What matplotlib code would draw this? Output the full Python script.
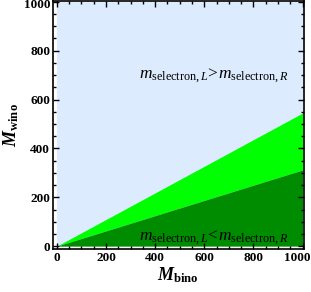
import numpy as np
import matplotlib.pyplot as plt
import matplotlib.ticker as ticker
import matplotlib.transforms as mtransforms

plt.rcParams['mathtext.fontset'] = 'custom'
plt.rcParams['mathtext.rm'] = 'Liberation Serif'
plt.rcParams['mathtext.it'] = 'Liberation Serif:italic'
plt.rcParams['mathtext.bf'] = 'Liberation Serif:bold'
plt.rcParams['mathtext.bfit'] = 'Liberation Serif:bold:italic'
plt.rcParams['font.family'] = 'Liberation Serif'

# boundary lines M_wino = slope * M_bino
m_bino = [0, 1000]
upper_edge = [0, 545]   # light green top
lower_edge = [0, 312]   # dark green top
region_text = [r'$m_{\mathrm{selectron,}L}\!>\!m_{\mathrm{selectron,}R}$',
               r'$m_{\mathrm{selectron,}L}\!<\!m_{\mathrm{selectron,}R}$']

fig = plt.figure(figsize=(3.11, 2.92), dpi=100)
ax = fig.add_axes([0.170, 0.147, 0.807, 0.850])

ax.fill_between([0, 1000], [0, 0], [1000, 1000], color='#dcebfd', lw=0)
ax.fill_between(m_bino, lower_edge, upper_edge, color='#00ff00', lw=0)
ax.fill_between(m_bino, [0, 0], lower_edge, color='#008c00', lw=0)

ax.text(640, 700, region_text[0], fontsize=12.5, ha='center', va='center')
ax.text(640, 35, region_text[1], fontsize=12.5, ha='center', va='center')

ax.set_xlim(-16, 1005)
ax.set_ylim(-12, 1004)
ax.set_xticks([0, 200, 400, 600, 800, 1000])
ax.set_yticks([0, 200, 400, 600, 800, 1000])
ax.xaxis.set_minor_locator(ticker.MultipleLocator(50))
ax.yaxis.set_minor_locator(ticker.MultipleLocator(50))
ax.tick_params(which='both', direction='in', top=True, right=True, width=1)
ax.tick_params(which='major', length=4.5, labelsize=9.5, pad=2)
ax.tick_params(which='minor', length=2.5)
for s in ax.spines.values():
    s.set_linewidth(1.2)

fig.canvas.draw()
for lab in ax.get_xticklabels() + ax.get_yticklabels():
    lab.set_fontweight('bold')
for lab in ax.get_xticklabels():
    if lab.get_text() == '1000':
        lab.set_transform(lab.get_transform() +
                          mtransforms.ScaledTranslation(-5 / 100, 0, fig.dpi_scale_trans))
for lab in ax.get_yticklabels():
    if lab.get_text() == '1000':
        lab.set_transform(lab.get_transform() +
                          mtransforms.ScaledTranslation(0, -2 / 100, fig.dpi_scale_trans))

ax.set_xlabel(r'$\mathbfit{M}_{\mathbf{bino}}$', fontsize=13, labelpad=1)
ax.set_ylabel(r'$\mathbfit{M}_{\mathbf{wino}}$', fontsize=13, labelpad=2)

plt.savefig('out.png', dpi=100)
